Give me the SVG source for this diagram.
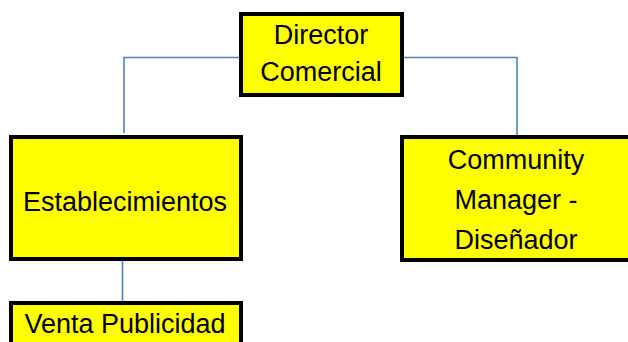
<svg xmlns="http://www.w3.org/2000/svg" width="628" height="342" viewBox="0 0 628 342">
<style>
.box{fill:#FFFF00;stroke:#000;stroke-width:4}
.lbl{font-family:"Liberation Sans",Arial,sans-serif;font-size:27px;fill:#000;text-anchor:middle}
.conn{fill:none;stroke:#4F81BD;stroke-width:1.6}
</style>
<rect width="628" height="342" fill="#fff"/>
<g id="connectors">
<path class="conn" d="M241 57.5 H124 V133"/>
<path class="conn" d="M402 57.5 H517 V135"/>
<path class="conn" d="M122.5 261 V301"/>
</g>
<g id="director">
<rect class="box" x="241" y="14" width="161" height="81"/>
<text class="lbl" x="321" y="44">Director</text>
<text class="lbl" x="321" y="81">Comercial</text>
</g>
<g id="establecimientos">
<rect class="box" x="11" y="137" width="230" height="122"/>
<text class="lbl" x="125" y="211">Establecimientos</text>
</g>
<g id="community">
<rect class="box" x="402" y="137" width="232" height="123"/>
<text class="lbl" x="516" y="169">Community</text>
<text class="lbl" x="516" y="209">Manager -</text>
<text class="lbl" x="516" y="249">Diseñador</text>
</g>
<g id="venta">
<rect class="box" x="11" y="303" width="230" height="60"/>
<text class="lbl" x="125" y="333">Venta Publicidad</text>
</g>
</svg>
